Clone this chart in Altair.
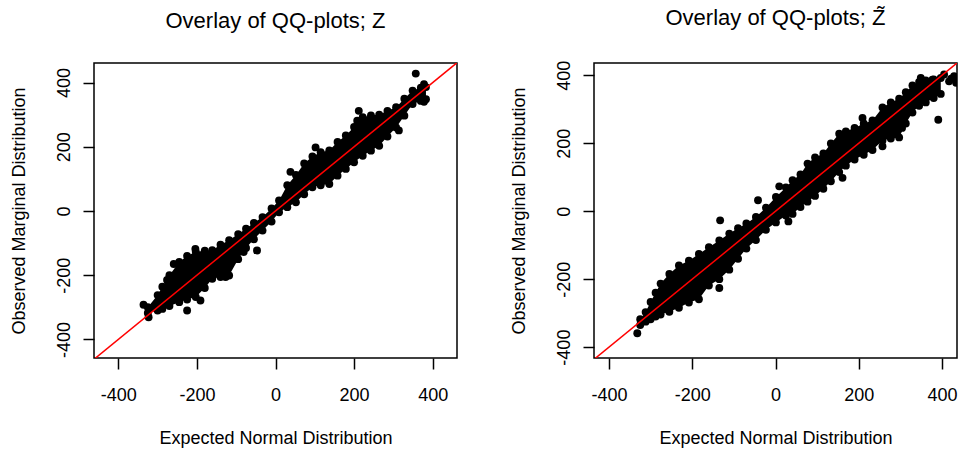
import altair as alt
import pandas as pd

FONT = "Liberation Sans"

# ---------------- data ----------------
tick_values = [-400, -200, 0, 200, 400]
diag_x = [-500, 500]
diag_y = [-500, 500]

# Left panel (Z): dense band of points (lower / upper envelope of point centres)
left_band_x = [-325, -300, -288, -270, -245, -225, -203, -180, -161, -140, -118, -95, -75, -55,
               -33, -10, 9, 30, 52, 73, 94, 115, 137, 158, 179, 200, 222, 243, 264, 285, 307,
               328, 349, 370, 383]
left_band_lo = [-318, -310, -305, -296, -284, -276, -268, -240, -211, -206, -201, -150, -115, -88,
                -61, -33, -4, 12, 27, 52, 74, 80, 84, 110, 131, 152, 172, 188, 203, 232, 260,
                297, 333, 343, 348]
left_band_hi = [-300, -262, -236, -200, -159, -140, -127, -124, -122, -105, -91, -72, -55, -37,
                -19, 8, 33, 80, 112, 148, 170, 183, 189, 215, 235, 262, 292, 298, 300, 312, 323,
                350, 375, 384, 386]
left_out_x = [357, 212, 208, 102, 38, 314, 378, 378, -336, -323, -225, -191, -276, -259, -204,
              -127, -81, -47]
left_out_y = [428, 312, 281, 198, 122, 251, 340, 395, -292, -331, -310, -279, -215, -165, -118,
              -206, -128, -123]

# Right panel (Z tilde)
right_band_x = [-325, -312, -300, -288, -276, -255, -232, -208, -184, -160, -135, -111, -90, -70,
                -47, -23, 1, 25, 41, 60, 77, 95, 115, 133, 153, 169, 190, 212, 233, 257, 277,
                297, 313, 329, 345, 361, 380, 397]
right_band_lo = [-335, -325, -318, -310, -304, -296, -284, -269, -259, -219, -200, -172, -140,
                 -110, -85, -55, -33, -13, -8, 12, 28, 45, 66, 88, 115, 134, 152, 166, 180, 208,
                 214, 217, 258, 290, 310, 320, 333, 345]
right_band_hi = [-318, -297, -267, -240, -213, -185, -160, -146, -126, -106, -86, -66, -50, -36,
                 -17, 10, 42, 70, 91, 108, 140, 158, 170, 199, 228, 235, 245, 258, 267, 305, 320,
                 331, 350, 370, 380, 385, 388, 392]
right_out_x = [-332, -133, -42, 9, 31, 161, 209, 391, 304, 257, -135, 405, 417, 429, 377, 349,
               434, 422]
right_out_y = [-359, -27, 32, 73, -30, 98, 274, 269, 245, 191, -226, 402, 382, 397, 387, 392,
               378, 390]

# ---------------- chart ----------------
LABEL = "'' + datum.value"


def panel(title, bx, blo, bhi, ox, oy, xdom, ydom):
    band = pd.DataFrame({"x": bx, "lo": blo, "hi": bhi})
    pts = pd.DataFrame({"x": list(bx) + list(bx) + list(ox),
                        "y": list(blo) + list(bhi) + list(oy)})
    line = pd.DataFrame({"x": diag_x, "y": diag_y})
    xs = alt.Scale(domain=xdom, nice=False, zero=False)
    ys = alt.Scale(domain=ydom, nice=False, zero=False)
    xax = alt.Axis(values=tick_values, title="Expected Normal Distribution",
                   labelExpr=LABEL, labelPadding=17, titlePadding=25)
    yax = alt.Axis(values=tick_values, title="Observed Marginal Distribution",
                   labelExpr=LABEL, labelAngle=270, labelAlign="center",
                   labelBaseline="alphabetic", labelPadding=14, titlePadding=27)
    area = alt.Chart(band).mark_area(color="black", clip=True).encode(
        x=alt.X("x:Q", scale=xs, axis=xax),
        y=alt.Y("hi:Q", scale=ys, axis=yax),
        y2="lo:Q")
    dots = alt.Chart(pts).mark_circle(size=62, color="black", opacity=1, clip=True).encode(
        x=alt.X("x:Q", scale=xs, axis=xax),
        y=alt.Y("y:Q", scale=ys, axis=yax))
    ln = alt.Chart(line).mark_line(color="#ff0000", strokeWidth=1.5, clip=True).encode(
        x=alt.X("x:Q", scale=xs, axis=xax),
        y=alt.Y("y:Q", scale=ys, axis=yax))
    return alt.layer(area, dots, ln).properties(
        width=363, height=295,
        title=alt.TitleParams(title, fontSize=22, fontWeight="normal", font=FONT,
                              color="black", anchor="middle", offset=30))


left = panel("Overlay of QQ-plots; Z", left_band_x, left_band_lo, left_band_hi,
             left_out_x, left_out_y, [-462, 462], [-458, 461])
right = panel("Overlay of QQ-plots; Z\u0303", right_band_x, right_band_lo, right_band_hi,
              right_out_x, right_out_y, [-436, 436], [-432, 436])

chart = alt.hconcat(left, right, spacing=51).properties(
    padding={"left": 9, "top": 6, "right": 2, "bottom": 2},
    background="white"
).configure_view(
    stroke="black", strokeWidth=1.5
).configure_axis(
    domain=False, grid=False,
    tickColor="black", tickWidth=1.5, tickSize=11,
    labelFont=FONT, labelFontSize=18, labelColor="black",
    labelFlush=False, labelOverlap=False, labelBound=False,
    titleFont=FONT, titleFontSize=18, titleFontWeight="normal", titleColor="black"
)

chart.save("out.html", embed_options={"renderer": "svg", "actions": False})
